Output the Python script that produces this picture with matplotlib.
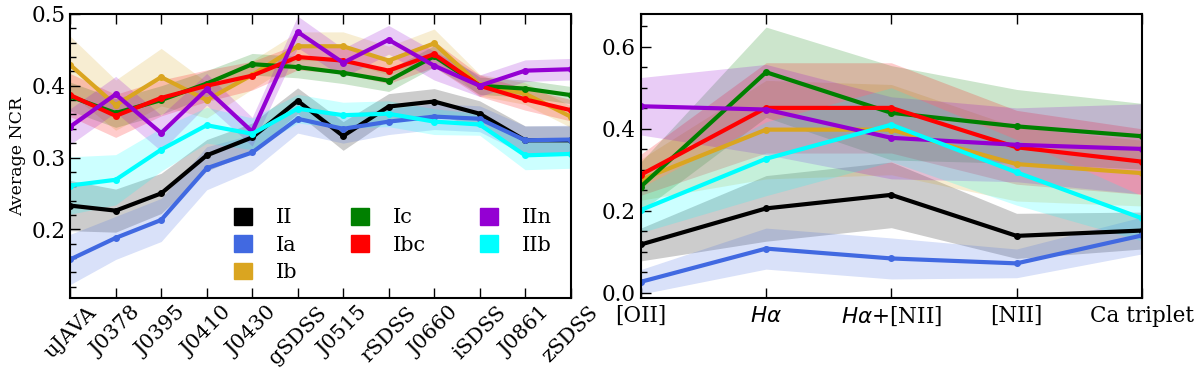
import matplotlib
matplotlib.use('Agg')
import matplotlib.pyplot as plt
from matplotlib.patches import Patch
from matplotlib.ticker import MultipleLocator
import numpy as np

plt.rcParams['font.family'] = 'DejaVu Serif'
plt.rcParams['mathtext.fontset'] = 'dejavusans'

# ---- data, left panel (photometric filters) ----
filters = ['uJAVA', 'J0378', 'J0395', 'J0410', 'J0430', 'gSDSS', 'J0515',
           'rSDSS', 'J0660', 'iSDSS', 'J0861', 'zSDSS']
types = ['II', 'Ia', 'Ib', 'Ic', 'Ibc', 'IIn', 'IIb']
colors = ['black', 'royalblue', 'goldenrod', 'green', 'red', 'darkviolet', 'cyan']

ncr_II = [0.233, 0.226, 0.250, 0.303, 0.328, 0.379, 0.330, 0.371, 0.378, 0.361, 0.324, 0.324]
ncr_Ia = [0.158, 0.188, 0.213, 0.285, 0.307, 0.354, 0.340, 0.350, 0.357, 0.354, 0.324, 0.325]
ncr_Ib = [0.429, 0.373, 0.412, 0.380, 0.415, 0.455, 0.455, 0.435, 0.459, 0.401, 0.389, 0.357]
ncr_Ic = [0.385, 0.362, 0.380, 0.403, 0.430, 0.426, 0.418, 0.407, 0.441, 0.400, 0.396, 0.387]
ncr_Ibc = [0.387, 0.358, 0.383, 0.400, 0.414, 0.440, 0.435, 0.421, 0.444, 0.400, 0.381, 0.366]
ncr_IIn = [0.343, 0.388, 0.334, 0.395, 0.336, 0.475, 0.432, 0.464, 0.428, 0.400, 0.421, 0.423]
ncr_IIb = [0.261, 0.269, 0.311, 0.345, 0.333, 0.368, 0.359, 0.361, 0.350, 0.346, 0.303, 0.305]

err_II = [0.035, 0.030, 0.028, 0.022, 0.020, 0.018, 0.020, 0.018, 0.018, 0.018, 0.020, 0.020]
err_Ia = [0.035, 0.030, 0.030, 0.030, 0.025, 0.020, 0.020, 0.018, 0.018, 0.018, 0.020, 0.020]
err_Ib = [0.040, 0.035, 0.040, 0.025, 0.020, 0.020, 0.020, 0.020, 0.020, 0.015, 0.015, 0.015]
err_Ic = [0.020, 0.020, 0.020, 0.018, 0.015, 0.015, 0.015, 0.015, 0.015, 0.012, 0.012, 0.012]
err_Ibc = [0.030, 0.030, 0.025, 0.022, 0.020, 0.018, 0.018, 0.018, 0.018, 0.015, 0.015, 0.015]
err_IIn = [0.025, 0.025, 0.025, 0.022, 0.020, 0.022, 0.020, 0.020, 0.020, 0.015, 0.015, 0.015]
err_IIb = [0.040, 0.035, 0.030, 0.025, 0.022, 0.020, 0.018, 0.018, 0.018, 0.015, 0.020, 0.020]

# ---- data, right panel (spectral lines) ----
lines = ['[OII]', r'$H\alpha$', r'$H\alpha$+[NII]', '[NII]', 'Ca triplet']
line_II = [0.118, 0.206, 0.239, 0.139, 0.152]
line_Ia = [0.027, 0.108, 0.084, 0.072, 0.140]
line_Ib = [0.276, 0.398, 0.398, 0.314, 0.292]
line_Ic = [0.259, 0.538, 0.439, 0.406, 0.382]
line_Ibc = [0.288, 0.451, 0.451, 0.355, 0.320]
line_IIn = [0.455, 0.447, 0.378, 0.361, 0.351]
line_IIb = [0.202, 0.327, 0.410, 0.294, 0.182]

lerr_II = [0.040, 0.080, 0.080, 0.055, 0.045]
lerr_Ia = [0.030, 0.050, 0.050, 0.035, 0.045]
lerr_Ib = [0.050, 0.120, 0.110, 0.090, 0.080]
lerr_Ic = [0.060, 0.110, 0.115, 0.090, 0.080]
lerr_Ibc = [0.050, 0.110, 0.110, 0.090, 0.080]
lerr_IIn = [0.070, 0.110, 0.100, 0.090, 0.110]
lerr_IIb = [0.055, 0.090, 0.090, 0.080, 0.055]

left_vals = [ncr_II, ncr_Ia, ncr_Ib, ncr_Ic, ncr_Ibc, ncr_IIn, ncr_IIb]
left_errs = [err_II, err_Ia, err_Ib, err_Ic, err_Ibc, err_IIn, err_IIb]
right_vals = [line_II, line_Ia, line_Ib, line_Ic, line_Ibc, line_IIn, line_IIb]
right_errs = [lerr_II, lerr_Ia, lerr_Ib, lerr_Ic, lerr_Ibc, lerr_IIn, lerr_IIb]

fig = plt.figure(figsize=(12, 3.77), dpi=100)
ax1 = fig.add_axes([0.0585, 0.209, 0.417, 0.754])
ax2 = fig.add_axes([0.534, 0.210, 0.4175, 0.753])

def draw(ax, labels, vals, errs):
    x = np.arange(len(labels))
    for v, e, c in zip(vals, errs, colors):
        v = np.array(v)
        e = np.array(e)
        ax.fill_between(x, v - e, v + e, color=c, alpha=0.2, lw=0)
        ax.plot(x, v, color=c, lw=3, marker='o', ms=4)
    ax.set_xlim(0, len(labels) - 1)
    ax.set_xticks(x)
    ax.tick_params(axis='x', direction='in', top=True, length=7, width=1, labelsize=15.5)
    ax.tick_params(axis='y', direction='in', which='major', length=7, width=1, labelsize=15.5)
    ax.tick_params(axis='y', direction='in', which='minor', length=4, width=1)
    for s in ax.spines.values():
        s.set_linewidth(1.5)

draw(ax1, filters, left_vals, left_errs)
ax1.set_xticklabels(filters, rotation=45, ha='center', fontsize=15)
ax1.set_ylim(0.104, 0.5)
ax1.yaxis.set_major_locator(MultipleLocator(0.1))
ax1.yaxis.set_minor_locator(MultipleLocator(0.02))
ax1.set_ylabel('Average NCR', fontsize=12.5, labelpad=4)

draw(ax2, lines, right_vals, right_errs)
ax2.set_xticklabels(lines)
ax2.tick_params(axis='x', pad=5)
ax2.set_ylim(-0.012, 0.68)
ax2.yaxis.set_major_locator(MultipleLocator(0.2))
ax2.yaxis.set_minor_locator(MultipleLocator(0.05))

handles = [Patch(color=c, label=t) for t, c in zip(types, colors)]
ax1.legend(handles=handles, ncol=3, frameon=False, fontsize=15,
           loc='lower left', bbox_to_anchor=(0.29, -0.01),
           handlelength=0.85, handleheight=0.85, handletextpad=1.15,
           columnspacing=2.6, labelspacing=0.38)

fig.savefig('out.png', dpi=100)
